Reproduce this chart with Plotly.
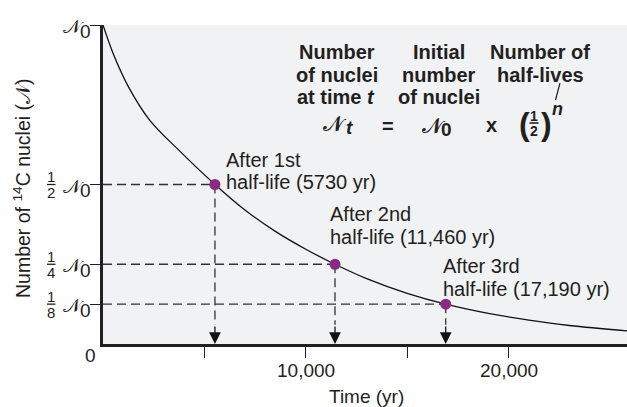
import plotly.graph_objects as go

# ---- data ----
curve_t = [0, 500, 1250, 2300, 3700, 5520, 7000, 8500, 10000, 11440, 13000, 15000, 16900, 19000, 21000, 23000, 25840]
curve_n = [1.0, 0.911, 0.807, 0.702, 0.61, 0.5, 0.42, 0.353, 0.297, 0.25, 0.205, 0.159, 0.125, 0.096, 0.075, 0.058, 0.041]

halflife_t = [5520, 11440, 16900]
halflife_n = [0.5, 0.25, 0.125]
halflife_label1 = ["After 1st", "After 2nd", "After 3rd"]
halflife_label2 = ["half-life (5730 yr)", "half-life (11,460 yr)", "half-life (17,190 yr)"]

y_tick_vals = [1.0, 0.5, 0.25, 0.125]
y_tick_frac = [None, ("1", "2"), ("1", "4"), ("1", "8")]
x_tick_vals = [5000, 10000, 15000, 20000]
x_tick_text = ["", "10,000", "", "20,000"]

X_MAX = 25840
W, H = 627, 407
ML, MR, MT, MB = 103, 0, 25, 63
PW = W - ML - MR
PH = H - MT - MB

FONT = "Liberation Sans, Arial, sans-serif"
INK = "#231f20"
SCRIPT_N = "\U0001D4A9"
SCRIPT_NB = "\U0001D4DD"


def px(x):
    return (x - ML) / PW


def py(y):
    return (H - MB - y) / PH


fig = go.Figure()

# dashed guide lines
for t, n in zip(halflife_t, halflife_n):
    fig.add_trace(go.Scatter(x=[0, t], y=[n, n], mode="lines",
                             line=dict(color="#333333", width=1.3, dash="9px,5px"),
                             hoverinfo="skip", showlegend=False))
    fig.add_trace(go.Scatter(x=[t, t], y=[n, 0.06], mode="lines",
                             line=dict(color="#333333", width=1.3, dash="9px,5px"),
                             hoverinfo="skip", showlegend=False))

# decay curve
fig.add_trace(go.Scatter(x=curve_t, y=curve_n, mode="lines", line_shape="spline",
                         line=dict(color="#111111", width=1.3), showlegend=False))

# half-life points
fig.add_trace(go.Scatter(x=halflife_t, y=halflife_n, mode="markers",
                         marker=dict(color="#8a2a85", size=11), showlegend=False))

ann = []
# arrows to the axis
for t in halflife_t:
    ann.append(dict(x=t, y=0, xref="x", yref="y", ax=0, ay=-19, axref="pixel", ayref="pixel",
                    text="", showarrow=True, arrowhead=2, arrowsize=1.8, arrowwidth=1.3,
                    arrowcolor="#111111", standoff=0))

# half-life labels
lab_shift = [(9, 24.3, 2.7), (-6.7, 50.3, 27.3), (-4.7, 38.6, 15.3)]
for (t, n, l1, l2, (dx, s1, s2)) in zip(halflife_t, halflife_n, halflife_label1, halflife_label2, lab_shift):
    for txt, s in ((l1, s1), (l2, s2)):
        ann.append(dict(x=t, y=n, xref="x", yref="y", text=txt, showarrow=False,
                        xanchor="left", yanchor="middle", xshift=dx, yshift=s,
                        font=dict(family=FONT, size=20, color=INK)))

# x tick labels at the axis tick values
for v, txt in zip(x_tick_vals, x_tick_text):
    if txt:
        ann.append(dict(x=v, y=py(370.5), xref="x", yref="paper", text=txt, showarrow=False,
                        xanchor="center", yanchor="middle",
                        font=dict(family=FONT, size=19, color=INK)))

# y tick labels (N0, fractions)
for v, fr in zip(y_tick_vals, y_tick_frac):
    ann.append(dict(x=px(73), y=v, xref="paper", yref="y", text=SCRIPT_N, showarrow=False,
                    xanchor="center", yanchor="middle", yshift=-1,
                    font=dict(family="DejaVu Serif, serif", size=19, color=INK)))
    ann.append(dict(x=px(85.5), y=v, xref="paper", yref="y", text="0", showarrow=False,
                    xanchor="center", yanchor="middle", yshift=-6,
                    font=dict(family=FONT, size=19, color=INK)))
    if fr:
        ann.append(dict(x=px(51), y=v, xref="paper", yref="y", text=fr[0], showarrow=False,
                        xanchor="center", yanchor="middle", yshift=8,
                        font=dict(family=FONT, size=15, color=INK)))
        ann.append(dict(x=px(51), y=v, xref="paper", yref="y", text=fr[1], showarrow=False,
                        xanchor="center", yanchor="middle", yshift=-8,
                        font=dict(family=FONT, size=15, color=INK)))

ann.append(dict(x=px(90.7), y=py(355), xref="paper", yref="paper", text="0", showarrow=False,
                xanchor="center", yanchor="middle", font=dict(family=FONT, size=19, color=INK)))

# axis titles
ann.append(dict(x=px(22), y=py(188), xref="paper", yref="paper", textangle=-90,
                text="Number of <sup>14</sup>C nuclei (" + SCRIPT_N + ")", showarrow=False,
                xanchor="center", yanchor="middle", font=dict(family=FONT, size=19.5, color=INK)))
ann.append(dict(x=px(366), y=py(396), xref="paper", yref="paper", text="Time (yr)", showarrow=False,
                xanchor="center", yanchor="middle", font=dict(family=FONT, size=19, color=INK)))

# equation block
bold = dict(family=FONT, size=20, color=INK)
eq_lines = [
    ("<b>Number</b>", 336.7, 52), ("<b>of nuclei</b>", 337, 74.5), ("<b>at time <i>t</i></b>", 336, 97),
    ("<b>Initial</b>", 438.8, 52), ("<b>number</b>", 438.8, 74.5), ("<b>of nuclei</b>", 438.8, 97),
    ("<b>Number of</b>", 540.3, 52), ("<b>half-lives</b>", 540.8, 74.5),
]
for txt, x, y in eq_lines:
    ann.append(dict(x=px(x), y=py(y), xref="paper", yref="paper", text=txt, showarrow=False,
                    xanchor="center", yanchor="middle", font=bold))

eq_row = [
    (SCRIPT_NB, 335, 124, 21, "DejaVu Serif, serif"),
    ("<b><i>t</i></b>", 349, 127, 19, FONT),
    ("<b>=</b>", 387.5, 125.5, 20, FONT),
    (SCRIPT_NB, 433.5, 126, 21, "DejaVu Serif, serif"),
    ("<b>0</b>", 446, 129, 19, FONT),
    ("<b>x</b>", 491, 125, 20, FONT),
    ("<b>(</b>", 524, 124, 32, FONT),
    ("<b>)</b>", 546, 124, 32, FONT),
    ("<b>1</b>", 534, 116, 14, FONT),
    ("<b>2</b>", 534, 131, 14, FONT),
    ("<b><i>n</i></b>", 557, 109, 18, FONT),
]
for txt, x, y, s, f in eq_row:
    ann.append(dict(x=px(x), y=py(y), xref="paper", yref="paper", text=txt, showarrow=False,
                    xanchor="center", yanchor="middle", font=dict(family=f, size=s, color=INK)))

shapes = [
    dict(type="line", xref="paper", yref="paper", x0=px(560), y0=py(83), x1=px(555.5), y1=py(100),
         line=dict(color=INK, width=1.2)),
    dict(type="line", xref="paper", yref="paper", x0=px(529.5), y0=py(123), x1=px(538.5), y1=py(123),
         line=dict(color=INK, width=1.6)),
]
for v, fr in zip(y_tick_vals, y_tick_frac):
    if fr:
        shapes.append(dict(type="line", xref="paper", yref="y", x0=px(47), x1=px(55.5), y0=v, y1=v,
                           line=dict(color=INK, width=1.3)))

fig.update_layout(
    width=W, height=H,
    margin=dict(l=ML, r=MR, t=MT, b=MB),
    paper_bgcolor="white", plot_bgcolor="#f1f2f4",
    showlegend=False,
    annotations=ann, shapes=shapes,
    xaxis=dict(range=[0, X_MAX], showgrid=False, zeroline=False, showline=True, linecolor="#231f20",
               linewidth=3, ticks="outside", ticklen=11, tickwidth=1.3, tickcolor=INK,
               tickvals=x_tick_vals, showticklabels=False),
    yaxis=dict(range=[0, 1], showgrid=False, zeroline=False, showline=True, linecolor="#231f20",
               linewidth=3, ticks="outside", ticklen=10, tickwidth=1.3, tickcolor=INK,
               tickvals=y_tick_vals, showticklabels=False),
)

fig.write_html("out.html", config={"displayModeBar": False},
               post_script="document.body.style.margin='0';document.body.style.overflow='hidden';")
